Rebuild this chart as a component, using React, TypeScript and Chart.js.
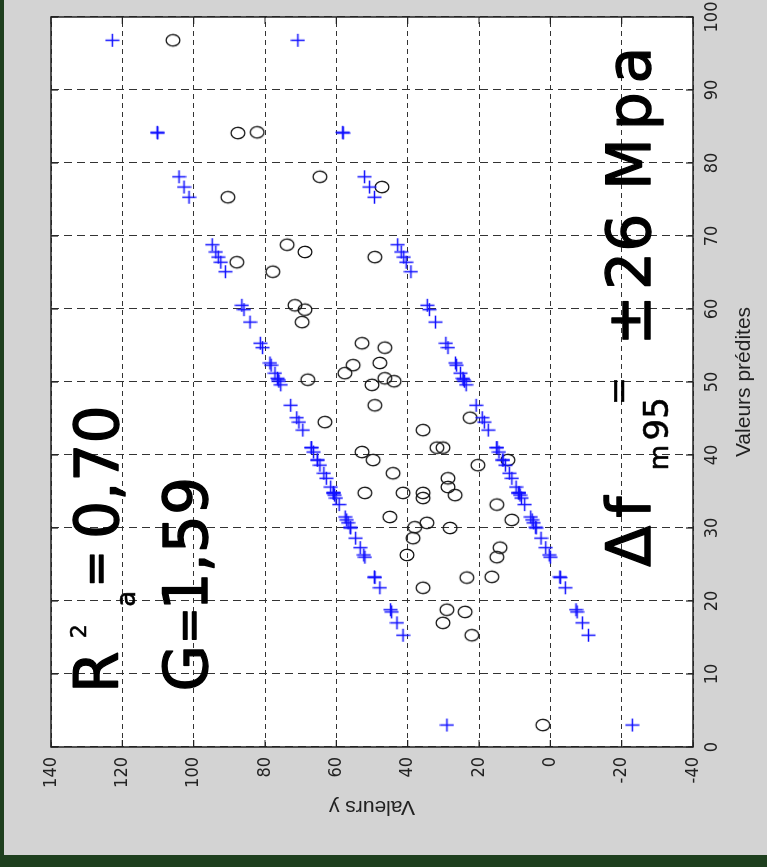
import { useEffect, useRef } from 'react';
import { Chart, registerables } from 'chart.js';

Chart.register(...registerables);

// ---- data ----
const predicted = [
  3.0, 15.3, 17.0, 18.5, 18.8, 21.8, 23.2, 23.3, 26.0, 26.3, 27.3, 28.6, 30.0, 30.1, 30.7, 31.1, 31.5, 33.2, 34.1, 34.5,
  34.8, 34.8, 34.8, 35.6, 36.8, 37.5, 38.6, 39.3, 39.3, 40.4, 41.0, 41.0, 43.4, 44.5, 45.1, 46.8, 49.6, 50.1, 50.3, 50.5,
  51.2, 52.3, 52.6, 54.7, 55.3, 58.2, 59.9, 60.5, 65.1, 66.4, 67.1, 67.8, 68.8, 75.3, 76.7, 78.1, 84.1, 84.2, 96.8,
];
const observed = [
  2.1, 22.0, 30.1, 23.9, 29.0, 35.7, 23.4, 16.4, 15.0, 40.2, 14.1, 38.5, 28.1, 38.0, 34.6, 10.8, 45.0, 15.0, 35.7, 26.7,
  52.0, 41.3, 35.7, 28.7, 28.7, 44.1, 20.3, 49.7, 11.9, 52.8, 31.8, 30.1, 35.7, 63.2, 22.5, 49.2, 50.0, 43.8, 68.0, 46.4,
  57.6, 55.3, 47.8, 46.4, 52.8, 69.6, 68.8, 71.6, 77.8, 87.9, 49.2, 68.8, 73.8, 90.4, 47.2, 64.6, 87.6, 82.2, 105.8,
];
const upperBound = [
  29.0, 41.3, 43.0, 44.5, 44.8, 47.8, 49.2, 49.3, 52.0, 52.3, 53.3, 54.6, 56.0, 56.1, 56.7, 57.1, 57.5, 59.2, 60.1, 60.5,
  60.8, 60.8, 60.8, 61.6, 62.8, 63.5, 64.6, 65.3, 65.3, 66.4, 67.0, 67.0, 69.4, 70.5, 71.1, 72.8, 75.6, 76.1, 76.3, 76.5,
  77.2, 78.3, 78.6, 80.7, 81.3, 84.2, 85.9, 86.5, 91.1, 92.4, 93.1, 93.8, 94.8, 101.3, 102.7, 104.1, 110.1, 110.2, 122.8,
];
const lowerBound = [
  -23.0, -10.7, -9.0, -7.5, -7.2, -4.2, -2.8, -2.7, 0.0, 0.3, 1.3, 2.6, 4.0, 4.1, 4.7, 5.1, 5.5, 7.2, 8.1, 8.5,
  8.8, 8.8, 8.8, 9.6, 10.8, 11.5, 12.6, 13.3, 13.3, 14.4, 15.0, 15.0, 17.4, 18.5, 19.1, 20.8, 23.6, 24.1, 24.3, 24.5,
  25.2, 26.3, 26.6, 28.7, 29.3, 32.2, 33.9, 34.5, 39.1, 40.4, 41.1, 41.8, 42.8, 49.3, 50.7, 52.1, 58.1, 58.2, 70.8,
];
const xTicks = [0, 10, 20, 30, 40, 50, 60, 70, 80, 90, 100];
const yTicks = [-40, -20, 0, 20, 40, 60, 80, 100, 120, 140];
const xAxisTitle = 'Valeurs prédites';
const yAxisTitle = 'Valeurs y';

// annotation pieces: text, position in data units, font size
const notes = [
  { text: 'R', x: 7.4, y: 121.2, size: 60 },
  { text: '2', x: 14.9, y: 130.2, size: 22 },
  { text: 'a', x: 19.2, y: 116.5, size: 26 },
  { text: '=', x: 21.9, y: 123.2, size: 44 },
  { text: '0,70', x: 28.5, y: 121.2, size: 60 },
  { text: 'G', x: 7.6, y: 96.3, size: 60 },
  { text: '=', x: 14.1, y: 97.1, size: 44 },
  { text: '1,59', x: 18.7, y: 96.3, size: 60 },
  { text: 'Δ', x: 24.7, y: -27.9, size: 60 },
  { text: 'f', x: 31.4, y: -27.9, size: 60 },
  { text: 'm', x: 37.9, y: -33, size: 26 },
  { text: '95', x: 42, y: -33, size: 34 },
  { text: '=', x: 46.8, y: -22.3, size: 34 },
  { text: '±', x: 55, y: -27.9, size: 60 },
  { text: '26', x: 62.6, y: -27.9, size: 60 },
  { text: 'M', x: 76.3, y: -27.9, size: 60 },
  { text: 'p', x: 84.5, y: -27.9, size: 60 },
  { text: 'a', x: 90.9, y: -27.9, size: 60 },
];

const FIG_W = 855;
const FIG_H = 763;
const tickFont = { family: "'Liberation Sans Narrow', 'DejaVu Sans Condensed', 'Liberation Sans', sans-serif", size: 18 };
const titleFont = { family: "'Liberation Sans', Arial, sans-serif", size: 21 };

function makeCircle() {
  const c = document.createElement('canvas');
  c.width = 16;
  c.height = 18;
  const g = c.getContext('2d')!;
  g.strokeStyle = '#141414';
  g.lineWidth = 1.4;
  g.beginPath();
  g.ellipse(8, 9, 5.7, 6.9, 0, 0, Math.PI * 2);
  g.stroke();
  return c;
}

function makePlus() {
  const c = document.createElement('canvas');
  c.width = 15;
  c.height = 15;
  const g = c.getContext('2d')!;
  g.strokeStyle = '#1010ff';
  g.lineWidth = 1.5;
  g.beginPath();
  g.moveTo(1, 7.5);
  g.lineTo(14, 7.5);
  g.moveTo(7.5, 0.5);
  g.lineTo(7.5, 14.5);
  g.stroke();
  return c;
}

const framePlugin = {
  id: 'frame',
  beforeDraw(chart: any) {
    const { ctx, chartArea: a } = chart;
    ctx.save();
    ctx.fillStyle = '#ffffff';
    ctx.fillRect(a.left, a.top, a.right - a.left, a.bottom - a.top);
    ctx.restore();
  },
  beforeDatasetsDraw(chart: any) {
    const { ctx, chartArea: a, scales } = chart;
    ctx.save();
    ctx.strokeStyle = '#222';
    ctx.lineWidth = 1.2;
    ctx.beginPath();
    xTicks.forEach((v) => {
      const px = scales.x.getPixelForValue(v);
      ctx.moveTo(px, a.bottom);
      ctx.lineTo(px, a.bottom - 7);
      ctx.moveTo(px, a.top);
      ctx.lineTo(px, a.top + 7);
    });
    yTicks.forEach((v) => {
      const py = scales.y.getPixelForValue(v);
      ctx.moveTo(a.left, py);
      ctx.lineTo(a.left + 7, py);
      ctx.moveTo(a.right, py);
      ctx.lineTo(a.right - 7, py);
    });
    ctx.stroke();
    ctx.lineWidth = 1.5;
    ctx.strokeRect(a.left, a.top, a.right - a.left, a.bottom - a.top);
    ctx.restore();
  },
  afterDatasetsDraw(chart: any) {
    const { ctx, scales } = chart;
    ctx.save();
    ctx.fillStyle = '#000';
    ctx.strokeStyle = '#000';
    ctx.lineJoin = 'round';
    ctx.textAlign = 'left';
    ctx.textBaseline = 'alphabetic';
    notes.forEach((n) => {
      ctx.font = `${n.size}px 'DejaVu Sans', sans-serif`;
      const px = scales.x.getPixelForValue(n.x);
      const py = scales.y.getPixelForValue(n.y);
      ctx.lineWidth = n.size >= 40 ? 1.3 : 0.6;
      ctx.fillText(n.text, px, py);
      ctx.strokeText(n.text, px, py);
    });
    ctx.restore();
  },
};

export default function App() {
  const ref = useRef<HTMLCanvasElement>(null);
  useEffect(() => {
    const canvas = ref.current!;
    const circle = makeCircle();
    const plus = makePlus();
    const chart = new Chart(canvas, {
      type: 'scatter',
      data: {
        datasets: [
          {
            label: 'upper',
            data: predicted.map((p, i) => ({ x: p, y: upperBound[i] })),
            pointStyle: plus as any,
            pointRadius: 7,
          },
          {
            label: 'lower',
            data: predicted.map((p, i) => ({ x: p, y: lowerBound[i] })),
            pointStyle: plus as any,
            pointRadius: 7,
          },
          {
            label: 'observed',
            data: predicted.map((p, i) => ({ x: p, y: observed[i] })),
            pointStyle: circle as any,
            pointRadius: 7,
          },
        ],
      },
      options: {
        responsive: false,
        animation: false,
        events: [],
        layout: { padding: { left: 0, top: 47, right: 17, bottom: 0 } },
        plugins: { legend: { display: false }, tooltip: { enabled: false } },
        scales: {
          x: {
            type: 'linear',
            position: 'bottom',
            min: 0,
            max: 100,
            afterBuildTicks: (s: any) => {
              s.ticks = xTicks.map((v) => ({ value: v }));
            },
            afterFit: (s: any) => {
              s.height = 74;
              s.paddingLeft = 0;
              s.paddingRight = 0;
            },
            ticks: { font: tickFont, color: '#222', padding: 9, maxRotation: 0, autoSkip: false },
            grid: { color: '#333', lineWidth: 1, drawTicks: false },
            border: { display: false, dash: [8, 5] },
            title: {
              display: true,
              text: xAxisTitle,
              font: titleFont,
              color: '#222',
              padding: { top: 0, bottom: 10 },
            },
          },
          y: {
            type: 'linear',
            min: -40,
            max: 140,
            afterBuildTicks: (s: any) => {
              s.ticks = yTicks.map((v) => ({ value: v }));
            },
            afterFit: (s: any) => {
              s.width = 108;
              s.paddingTop = 0;
              s.paddingBottom = 0;
            },
            ticks: { font: tickFont, color: '#222', padding: 10, autoSkip: false },
            grid: { color: '#333', lineWidth: 1, drawTicks: false },
            border: { display: false, dash: [5, 4] },
            title: {
              display: true,
              text: yAxisTitle,
              font: titleFont,
              color: '#222',
              padding: { top: 36, bottom: 0 },
            },
          },
        },
      } as any,
      plugins: [framePlugin],
    });
    return () => chart.destroy();
  }, []);

  return (
    <div style={{ position: 'absolute', left: 0, top: 0, width: 767, height: 867, background: '#1e3f1e', overflow: 'hidden' }}>
      <div style={{ position: 'absolute', left: 4, top: 0, width: 763, height: 855, background: '#d3d3d3', overflow: 'hidden' }}>
        <div
          style={{
            position: 'absolute',
            left: 0,
            top: 0,
            width: FIG_W,
            height: FIG_H,
            transformOrigin: '0 0',
            transform: `translateY(${FIG_W}px) rotate(-90deg)`,
          }}
        >
          <canvas ref={ref} width={FIG_W} height={FIG_H} style={{ display: 'block' }} />
        </div>
      </div>
    </div>
  );
}
